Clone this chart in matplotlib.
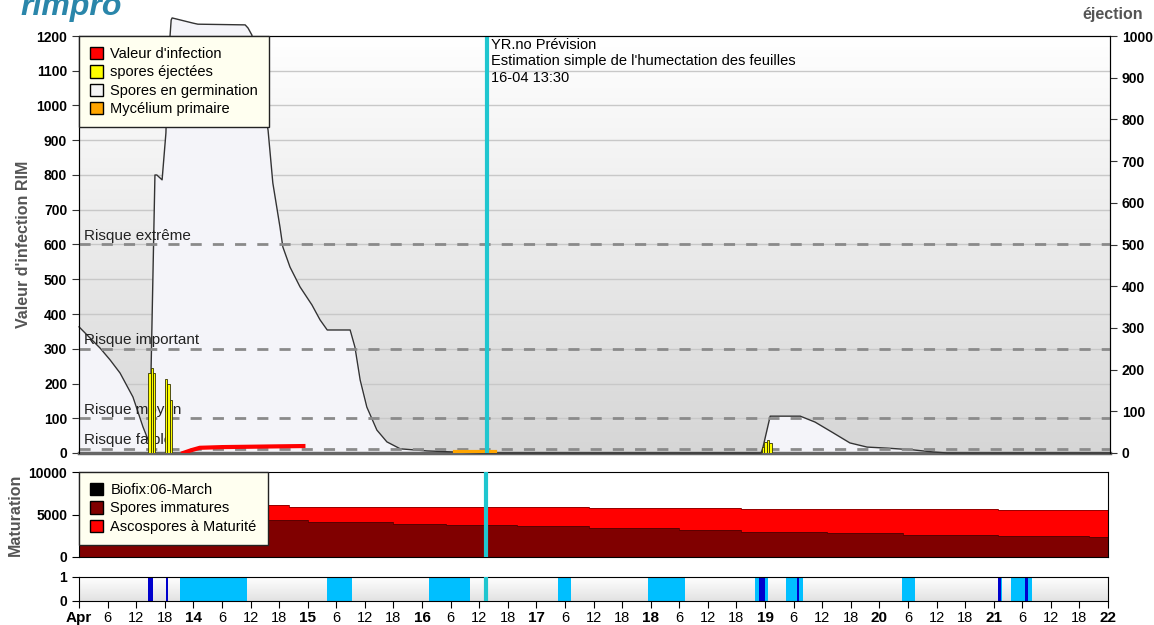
import numpy as np
import matplotlib.pyplot as plt
from matplotlib.patches import Patch
from matplotlib.colors import LinearSegmentedColormap

plt.rcParams['font.family'] = ['Liberation Sans', 'DejaVu Sans']

# time axis in hours from Apr 13 00:00
day_labels = ['Apr', '14', '15', '16', '17', '18', '19', '20', '21', '22']

# spores en germination (left axis)
germ_h = [0, 2.3, 4.4, 6.5, 8.6, 11.3, 13.4, 14.5, 14.9, 15.1, 15.9, 16.3, 17.4, 18.2, 18.6,
          19.3, 19.5, 23.9, 24.9, 34.8, 35.4, 36.2, 37.5, 38.5, 39.6, 40.6, 42.1, 42.7, 44.2,
          46.3, 48.8, 50.5, 52.0, 56.8, 57.8, 58.9, 60.3, 62.4, 64.5, 67.3, 72.9, 78.4, 84.0,
          142.9, 143.3, 144.8, 151.1, 154.2, 158.0, 161.5, 165.1, 169.3, 174.7, 178.9, 181.9, 216]
germ_v = [363, 331, 302, 268, 230, 161, 75, 37, 23, 247, 800, 800, 786, 921, 1111,
          1246, 1252, 1237, 1234, 1232, 1223, 1203, 1102, 1016, 929, 777, 650, 593, 535,
          478, 426, 383, 354, 354, 305, 210, 132, 66, 32, 12, 6, 3, 0,
          0, 17, 106, 106, 89, 58, 29, 17, 14, 9, 3, 0, 0]

# valeur d'infection
inf_h = [21.8, 23.5, 25.3, 30, 35.8, 41, 47.0]
inf_v = [0, 8, 15, 17, 18, 19, 20]

# mycelium primaire
myc_h = [78.8, 87.2]
myc_v = [2, 2]

# spores ejectees (right axis)
ej_h = [14.5, 15.0, 15.5, 18.0, 18.5, 19.0, 143.1, 143.6, 144.1, 144.6]
ej_v = [192, 204, 192, 178, 165, 128, 14, 27, 31, 24]

# risk thresholds
risk_names = ['Risque extrême', 'Risque important', 'Risque moyen', 'Risque faible']
risk_vals = [600, 300, 100, 12]

# maturation
mat_h = [0, 44, 48, 66, 77, 92, 107, 126, 139, 157, 173, 193, 212, 216]
immat = [4400, 4400, 4100, 3900, 3750, 3600, 3400, 3200, 3000, 2800, 2600, 2500, 2300, 2300]
total = [6100, 5900, 5900, 5900, 5850, 5850, 5800, 5750, 5700, 5650, 5600, 5550, 5500, 5500]

# leaf wetness / rain
wet_spans = [(21.2, 35.2), (52.0, 57.2), (73.5, 82.1), (100.6, 103.3), (119.4, 127.2),
             (141.8, 144.6), (148.3, 151.9), (172.8, 175.4), (192.8, 193.8), (195.7, 200.1)]
rain_spans = [(14.5, 15.5), (18.2, 18.6), (142.7, 143.9), (150.6, 151.1), (193.0, 193.5),
              (198.6, 199.2)]

now_h = 85.5
cyan = '#1fc6cf'

fig = plt.figure(figsize=(11.54, 6.25), dpi=100)
ax = fig.add_axes([0.0685, 0.2752, 0.8934, 0.6672])
axm = fig.add_axes([0.0685, 0.1088, 0.8917, 0.136])
axw = fig.add_axes([0.0685, 0.0384, 0.8917, 0.0384])

# main panel, background white at top to grey at bottom
grad = np.linspace(1, 0, 256).reshape(-1, 1)
cm = LinearSegmentedColormap.from_list('bg', ['#ffffff', '#d6d6d6'])
ax.imshow(grad, aspect='auto', cmap=cm, extent=[0, 216, 0, 1200], origin='lower', zorder=0)
for v in range(100, 1200, 100):
    ax.axhline(v, color='#c8c8c8', lw=1, zorder=1)
ax.fill_between(germ_h, germ_v, color='#f4f4f9', zorder=2, clip_on=False)
ax.plot(germ_h, germ_v, color='#333333', lw=1, zorder=3, clip_on=False)
for name, v in zip(risk_names, risk_vals):
    ax.axhline(v, color='#8a8a8a', lw=2, dashes=(4, 4), zorder=4)
    ax.text(1, v + 5, name, fontsize=11, color='#222222', va='bottom', zorder=6)
ax.plot(inf_h, inf_v, color='#ff0000', lw=3, zorder=5)
ax.plot(myc_h, myc_v, color='#ffa500', lw=3, zorder=5)
ax.axvline(now_h, color=cyan, lw=3, zorder=7)
ax.text(now_h + 0.8, 1195, "YR.no Prévision\nEstimation simple de l'humectation des feuilles\n16-04 13:30",
        fontsize=10.5, va='top', ha='left', linespacing=1.25, zorder=8)
ax.set_xlim(0, 216)
ax.set_ylim(0, 1200)
ax.set_yticks(range(0, 1201, 100))
ax.set_xticks([])
ax.tick_params(axis='y', labelsize=10, length=5, color='#333333')
for t in ax.get_yticklabels():
    t.set_fontweight('bold')
ax.set_ylabel("Valeur d'infection RIM", fontsize=11.5, fontweight='bold', color='#555555', labelpad=4)
for s in ['left', 'right', 'top']:
    ax.spines[s].set_color('#222222')
ax.spines['bottom'].set_color('#666666')
ax.spines['bottom'].set_linewidth(2.5)

ax2 = ax.twinx()
ax2.bar(ej_h, ej_v, width=0.5, align='edge', color='#ffff00', edgecolor='#333300', lw=0.6, zorder=5)
ax2.set_ylim(0, 1000)
ax2.set_yticks(range(0, 1001, 100))
ax2.tick_params(axis='y', labelsize=10, length=5, color='#333333')
for t in ax2.get_yticklabels():
    t.set_fontweight('bold')
ax2.set_xlim(0, 216)
ax2.set_xticks([])
ax2.spines['bottom'].set_visible(False)

handles = [Patch(facecolor='#ff0000', edgecolor='black', label="Valeur d'infection"),
           Patch(facecolor='#ffff00', edgecolor='black', label='spores éjectées'),
           Patch(facecolor='#f4f4f4', edgecolor='black', label='Spores en germination'),
           Patch(facecolor='#ffa500', edgecolor='black', label='Mycélium primaire')]
leg = ax2.legend(handles=handles, loc='upper left', bbox_to_anchor=(0, 1), borderaxespad=0,
                 fontsize=10.5, fancybox=False, framealpha=1, facecolor='#fffff0', edgecolor='#222222',
                 handlelength=0.9, handleheight=0.9, handletextpad=0.5, labelspacing=0.3,
                 borderpad=0.75)
leg.get_frame().set_linewidth(1)
leg.set_zorder(10)

fig.text(1143 / 1154, 1 - 15 / 625, 'éjection', ha='right', va='center', fontsize=11.5,
         fontweight='bold', color='#555555')
fig.text(20 / 1154, 1 - 15 / 625, 'rimpro', ha='left', va='baseline', fontsize=23,
         fontweight='bold', style='italic', color='#2a86aa')

# maturation panel
axm.fill_between(mat_h, immat, step='post', color='#800000', lw=0, zorder=2)
axm.fill_between(mat_h, immat, total, step='post', color='#ff0000', lw=0, zorder=2)
axm.step(mat_h, immat, where='post', color='#550000', lw=0.6, zorder=3)
axm.step(mat_h, total, where='post', color='#880000', lw=0.6, zorder=3)
axm.axvline(now_h, color=cyan, lw=3, zorder=7)
axm.set_xlim(0, 216)
axm.set_ylim(0, 10000)
axm.set_yticks([0, 5000, 10000])
axm.set_xticks([])
axm.tick_params(axis='y', labelsize=10, length=5)
for t in axm.get_yticklabels():
    t.set_fontweight('bold')
axm.set_ylabel('Maturation', fontsize=11.5, fontweight='bold', color='#555555', labelpad=4)
handles_m = [Patch(facecolor='#000000', edgecolor='black', label='Biofix:06-March'),
             Patch(facecolor='#800000', edgecolor='black', label='Spores immatures'),
             Patch(facecolor='#ff0000', edgecolor='black', label='Ascospores à Maturité')]
legm = axm.legend(handles=handles_m, loc='upper left', bbox_to_anchor=(0, 1), borderaxespad=0,
                  fontsize=10.5, fancybox=False, framealpha=1, facecolor='#fffff0', edgecolor='#222222',
                  handlelength=0.9, handleheight=0.9, handletextpad=0.5, labelspacing=0.3,
                  borderpad=0.75)
legm.set_zorder(10)

# wetness panel
cmw = LinearSegmentedColormap.from_list('bgw', ['#ffffff', '#e2e2e2'])
axw.imshow(grad, aspect='auto', cmap=cmw, extent=[0, 216, 0, 1], origin='lower', zorder=0)
for a, b in wet_spans:
    axw.axvspan(a, b, color='#00bfff', lw=0, zorder=1)
for a, b in rain_spans:
    axw.axvspan(a, b, color='#0000cd', lw=0, zorder=2)
axw.axvline(now_h, color=cyan, lw=3, zorder=7)
axw.set_xlim(0, 216)
axw.set_ylim(0, 1)
axw.set_yticks([0, 1])
axw.tick_params(axis='y', labelsize=10, length=5)
for t in axw.get_yticklabels():
    t.set_fontweight('bold')
ticks = list(range(0, 217, 6))
labels = []
for h in ticks:
    if h % 24 == 0:
        labels.append(day_labels[h // 24])
    else:
        labels.append(str(h % 24))
axw.set_xticks(ticks)
axw.set_xticklabels(labels)
axw.tick_params(axis='x', labelsize=10.5, length=5, pad=2)
for h, t in zip(ticks, axw.get_xticklabels()):
    if h % 24 == 0:
        t.set_fontweight('bold')
        t.set_fontsize(11)

fig.savefig('out.png', dpi=100)
